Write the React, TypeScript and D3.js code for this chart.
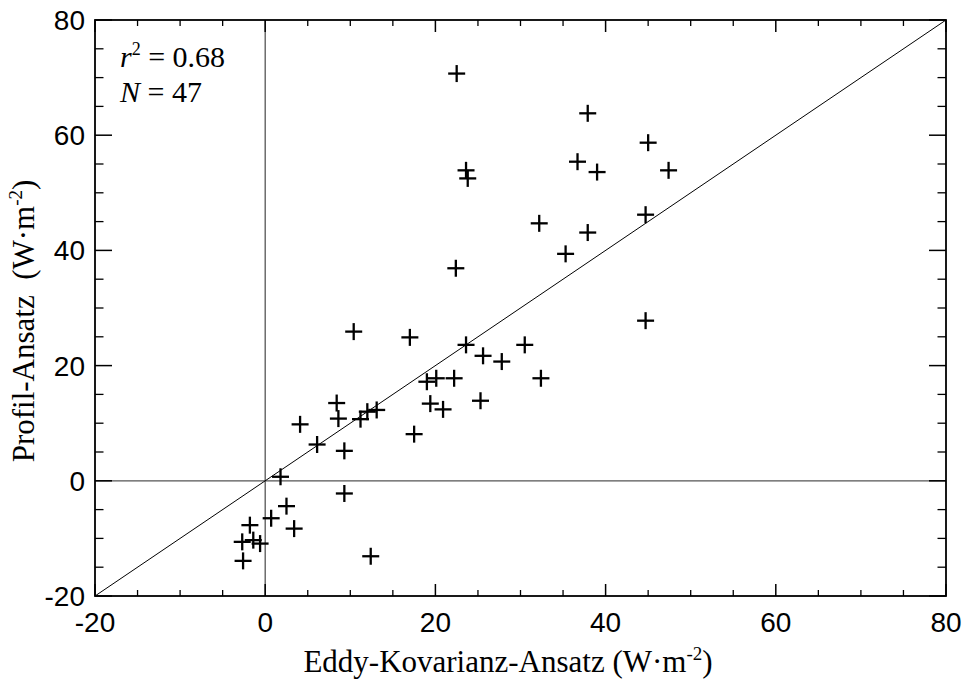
import React from 'react'
import * as d3 from 'd3'

// Eddy-Kovarianz (x) vs Profil (y), W·m-2
const eddyValues: number[] = [
  22.5, 23.6, 23.8, 32.2, 22.4, 37.9, 45.0, 36.7, 39.0, 47.4, 44.7, 37.9,
  35.3, 44.7, 10.4, 17.0, 23.6, 25.6, 27.8, 30.5, 32.4, 19.0, 20.1, 22.2,
  19.4, 20.9, 25.3, 8.4, 8.6, 4.1, 6.1, 9.3, 11.2, 12.0, 13.1, 1.8,
  9.3, 2.5, 0.7, 3.4, -1.8, -2.7, -1.4, -0.6, -2.6, 12.4, 17.5
]
const profilValues: number[] = [
  70.7, 53.9, 52.5, 44.7, 36.9, 63.8, 58.7, 55.4, 53.6, 53.9, 46.2, 43.1,
  39.4, 27.8, 25.9, 24.9, 23.6, 21.7, 20.7, 23.6, 17.8, 17.2, 17.8, 17.8,
  13.4, 12.4, 13.9, 13.5, 10.8, 9.8, 6.3, 5.2, 10.7, 12.0, 12.3, 0.7,
  -2.2, -4.4, -6.5, -8.3, -7.7, -10.6, -10.3, -10.9, -13.9, -13.1, 8.1
]
const majorTicks: number[] = [-20, 0, 20, 40, 60, 80]
const minorTicks: number[] = d3.range(-20, 81, 5).filter(v => v % 20 !== 0)

const W = 964
const H = 679
const plot = { left: 95, top: 20, right: 946, bottom: 596 }

const sans = '"Liberation Sans", Arial, sans-serif'
const serif = '"Liberation Serif", "Times New Roman", serif'

const App = () => {
  const x = d3.scaleLinear().domain([-20, 80]).range([plot.left, plot.right])
  const y = d3.scaleLinear().domain([-20, 80]).range([plot.bottom, plot.top])
  const arm = 8.5

  return (
    <svg width={W} height={H} style={{ position: 'absolute', left: 0, top: 0, background: '#fff' }}>
      {/* zero lines */}
      <line x1={x(0)} x2={x(0)} y1={plot.top} y2={plot.bottom} stroke='#555' strokeWidth={1.3} />
      <line x1={plot.left} x2={plot.right} y1={y(0)} y2={y(0)} stroke='#555' strokeWidth={1.3} />
      {/* 1:1 line */}
      <line x1={x(-20)} y1={y(-20)} x2={x(80)} y2={y(80)} stroke='#000' strokeWidth={1} />

      {/* ticks */}
      {majorTicks.map(t => (
        <g key={`M${t}`} stroke='#000' strokeWidth={1.5}>
          <line x1={x(t)} x2={x(t)} y1={plot.bottom} y2={plot.bottom - 12} />
          <line x1={x(t)} x2={x(t)} y1={plot.top} y2={plot.top + 12} />
          <line x1={plot.left} x2={plot.left + 17} y1={y(t)} y2={y(t)} />
          <line x1={plot.right} x2={plot.right - 17} y1={y(t)} y2={y(t)} />
        </g>
      ))}
      {minorTicks.map(t => (
        <g key={`m${t}`} stroke='#000' strokeWidth={1.3}>
          <line x1={x(t)} x2={x(t)} y1={plot.bottom} y2={plot.bottom - 6} />
          <line x1={x(t)} x2={x(t)} y1={plot.top} y2={plot.top + 6} />
          <line x1={plot.left} x2={plot.left + 8.5} y1={y(t)} y2={y(t)} />
          <line x1={plot.right} x2={plot.right - 8.5} y1={y(t)} y2={y(t)} />
        </g>
      ))}

      {/* frame */}
      <rect x={plot.left} y={plot.top} width={plot.right - plot.left} height={plot.bottom - plot.top}
        fill='none' stroke='#000' strokeWidth={1.8} />

      {/* tick labels */}
      {majorTicks.map(t => (
        <text key={`xl${t}`} x={x(t)} y={632} textAnchor='middle' fontFamily={sans} fontSize={28}>{t}</text>
      ))}
      {majorTicks.map(t => (
        <text key={`yl${t}`} x={85} y={y(t)} dy='0.36em' textAnchor='end' fontFamily={sans} fontSize={28}>{t}</text>
      ))}

      {/* points */}
      {eddyValues.map((v, i) => (
        <g key={i} stroke='#000' strokeWidth={2.3}>
          <line x1={x(v) - arm} x2={x(v) + arm} y1={y(profilValues[i])} y2={y(profilValues[i])} />
          <line x1={x(v)} x2={x(v)} y1={y(profilValues[i]) - arm} y2={y(profilValues[i]) + arm} />
        </g>
      ))}

      {/* stats */}
      <text x={120} y={67} fontFamily={serif} fontSize={30}>
        <tspan fontStyle='italic'>r</tspan>
        <tspan fontSize={18} dy={-12}>2</tspan>
        <tspan dy={12}> = 0.68</tspan>
      </text>
      <text x={120} y={102} fontFamily={serif} fontSize={30}>
        <tspan fontStyle='italic'>N</tspan>
        <tspan> = 47</tspan>
      </text>

      {/* axis titles */}
      <text x={508} y={672} textAnchor='middle' fontFamily={serif} fontSize={31}>
        Eddy-Kovarianz-Ansatz (W·m<tspan fontSize={19} dy={-12}>-2</tspan><tspan dy={12}>)</tspan>
      </text>
      <text transform={`translate(34, ${321}) rotate(-90)`} textAnchor='middle' fontFamily={serif} fontSize={31}
        style={{ whiteSpace: 'pre' }}>
        {'Profil-Ansatz  (W·m'}<tspan fontSize={19} dy={-12}>-2</tspan><tspan dy={12}>)</tspan>
      </text>
    </svg>
  )
}

export default App
